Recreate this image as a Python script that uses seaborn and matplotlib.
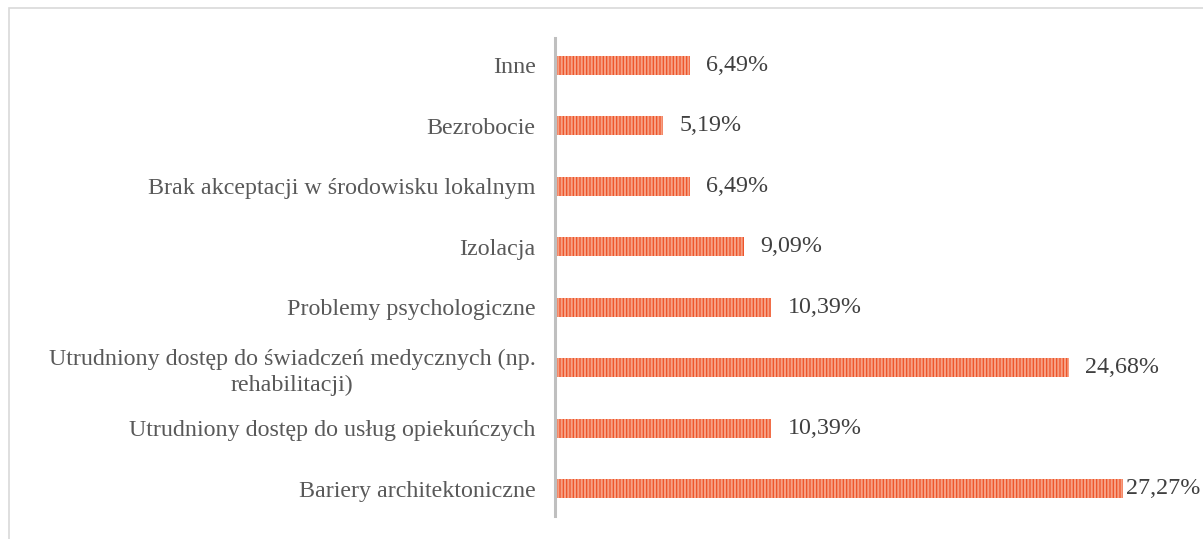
import matplotlib
matplotlib.use('Agg')
import matplotlib.pyplot as plt
import seaborn as sns
import pandas as pd
from matplotlib.patches import Rectangle

# Data (top to bottom as drawn)
categories = [
    'Inne',
    'Bezrobocie',
    'Brak akceptacji w środowisku lokalnym',
    'Izolacja',
    'Problemy psychologiczne',
    'Utrudniony dostęp do świadczeń medycznych (np.\nrehabilitacji)',
    'Utrudniony dostęp do usług opiekuńczych',
    'Bariery architektoniczne',
]
values = [6.49, 5.19, 6.49, 9.09, 10.39, 24.68, 10.39, 27.27]
value_labels = ['6,49%', '5,19%', '6,49%', '9,09%', '10,39%', '24,68%', '10,39%', '27,27%']

df = pd.DataFrame({'kategoria': categories, 'wartosc': values})

sns.set_theme(style='white')
plt.rcParams['font.family'] = ['Liberation Serif', 'DejaVu Serif']
plt.rcParams['hatch.linewidth'] = 1.5

fig = plt.figure(figsize=(12.03, 5.39), dpi=100)
ax = fig.add_axes([555 / 1203, 23 / 539, 625 / 1203, 478 / 539])

sns.barplot(data=df, x='wartosc', y='kategoria', order=categories,
            color='#EE5228', width=0.31, ax=ax, saturation=1)

# striped fill like the original
for p in ax.patches:
    p.set_hatch('|||||')
    p.set_edgecolor('#F6A084')
    p.set_linewidth(0)

ax.set_xlim(0, 30)
ax.set_ylim(7.45, -0.45)
ax.set_xlabel('')
ax.set_ylabel('')
ax.set_xticks([])

for s in ['top', 'right', 'bottom']:
    ax.spines[s].set_visible(False)
ax.spines['left'].set_color('#BFBFBF')
ax.spines['left'].set_linewidth(2.2)
ax.spines['left'].set_zorder(5)

ax.tick_params(axis='y', length=0, pad=14, labelsize=17.3, labelcolor='#595959')
for t in ax.get_yticklabels():
    t.set_multialignment('center')
    t.set_linespacing(1.3)

# value labels
offsets = [11.5, 11.5, 11.5, 11.5, 11.5, 11.5, 11.5, 2]
for i, (v, lab) in enumerate(zip(values, value_labels)):
    ax.annotate(lab, xy=(v, i), xytext=(offsets[i], 0), textcoords='offset points',
                ha='left', va='center', fontsize=17.3, color='#404040')

# outer frame of the chart area
fig.patches.append(Rectangle((9 / 1203, -0.2), 1.2, 1.2 - 8 / 539,
                             transform=fig.transFigure, fill=False,
                             edgecolor='#D9D9D9', linewidth=1.2))

fig.savefig('out.png', dpi=100)
